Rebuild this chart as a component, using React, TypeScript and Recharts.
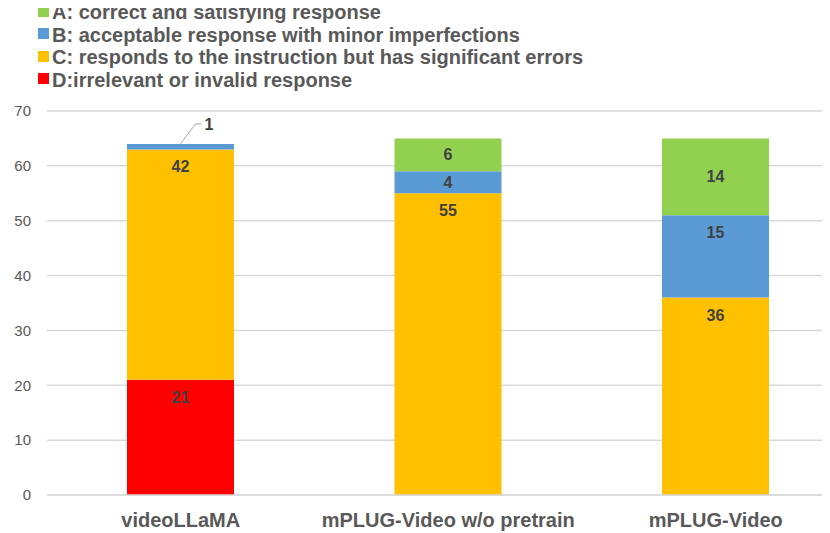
import React from 'react';
import { BarChart, Bar, XAxis, YAxis, CartesianGrid, LabelList } from 'recharts';

const categories = ['videoLLaMA', 'mPLUG-Video w/o pretrain', 'mPLUG-Video'];
const seriesA = [0, 6, 14];
const seriesB = [1, 4, 15];
const seriesC = [42, 55, 36];
const seriesD = [21, 0, 0];
const yTicks = [0, 10, 20, 30, 40, 50, 60, 70];

const legendItems = [
  { label: 'A: correct and satisfying response', color: '#92D050' },
  { label: 'B: acceptable response with minor imperfections', color: '#5B9BD5' },
  { label: 'C: responds to the instruction but has significant errors', color: '#FFC000' },
  { label: 'D:irrelevant or invalid response', color: '#FF0000' },
];

const data = categories.map((name, i) => ({
  name,
  A: seriesA[i],
  B: seriesB[i],
  C: seriesC[i],
  D: seriesD[i],
}));

const FONT = '"Liberation Sans", Arial, sans-serif';

const makeLabel = (centered: boolean) => (props: any) => {
  const { x, y, width, height, value } = props;
  if (!value) return null;
  const h = Math.abs(Number(height));
  const top = Number(height) < 0 ? Number(y) + Number(height) : Number(y);
  const cx = Number(x) + Number(width) / 2;
  if (h < 10) {
    const lx = cx + 15;
    const ly = top - 20;
    return (
      <g>
        <polyline
          points={`${cx},${top} ${lx},${ly} ${lx + 6},${ly}`}
          fill="none"
          stroke="#A6A6A6"
          strokeWidth={1}
        />
        <text x={lx + 9} y={ly + 1} fill="#404040" fontFamily={FONT} fontWeight="bold" fontSize={16} dominantBaseline="central">
          {value}
        </text>
      </g>
    );
  }
  const cy = top + (centered ? h / 2 : Math.min(17.5, h / 2));
  return (
    <text x={cx} y={cy} fill="#404040" fontFamily={FONT} fontWeight="bold" fontSize={16} textAnchor="middle" dominantBaseline="central">
      {value}
    </text>
  );
};

export default function App() {
  return (
    <div style={{ position: 'relative', width: 830, height: 533, marginLeft: -8, marginTop: -8, overflow: 'hidden', background: '#fff' }}>
      <div style={{ position: 'absolute', left: 38, top: 0, fontFamily: FONT, fontWeight: 'bold', fontSize: 20, color: '#595959', lineHeight: '22.5px' }}>
        {legendItems.map((it) => (
          <div key={it.label} style={{ display: 'flex', alignItems: 'center', whiteSpace: 'nowrap', height: 22.5 }}>
            <span style={{ display: 'inline-block', width: 11, height: 11, background: it.color, marginRight: 3 }} />
            <span style={{ position: 'relative', top: 1 }}>{it.label}</span>
          </div>
        ))}
      </div>
      <BarChart
        width={870}
        height={533}
        data={data}
        margin={{ top: 111, right: 20.5, bottom: 0, left: 0 }}
        barSize={107}
      >
        <CartesianGrid vertical={false} stroke="#D9D9D9" strokeWidth={1.5} />
        <XAxis
          dataKey="name"
          axisLine={{ stroke: '#D9D9D9', strokeWidth: 1.5 }}
          tickLine={false}
          tickSize={0}
          tickMargin={18}
          height={38}
          interval={0}
          tick={{ fill: '#595959', fontFamily: FONT, fontWeight: 'bold', fontSize: 20 }}
        />
        <YAxis
          width={47}
          domain={[0, 70]}
          ticks={yTicks}
          axisLine={false}
          tickLine={false}
          tickSize={0}
          tickMargin={16}
          tick={{ fill: '#595959', fontFamily: FONT, fontSize: 15 }}
        />
        <Bar dataKey="D" stackId="s" fill="#FF0000" isAnimationActive={false}>
          <LabelList dataKey="D" content={makeLabel(false)} />
        </Bar>
        <Bar dataKey="C" stackId="s" fill="#FFC000" isAnimationActive={false}>
          <LabelList dataKey="C" content={makeLabel(false)} />
        </Bar>
        <Bar dataKey="B" stackId="s" fill="#5B9BD5" isAnimationActive={false}>
          <LabelList dataKey="B" content={makeLabel(false)} />
        </Bar>
        <Bar dataKey="A" stackId="s" fill="#92D050" isAnimationActive={false}>
          <LabelList dataKey="A" content={makeLabel(true)} />
        </Bar>
      </BarChart>
    </div>
  );
}
